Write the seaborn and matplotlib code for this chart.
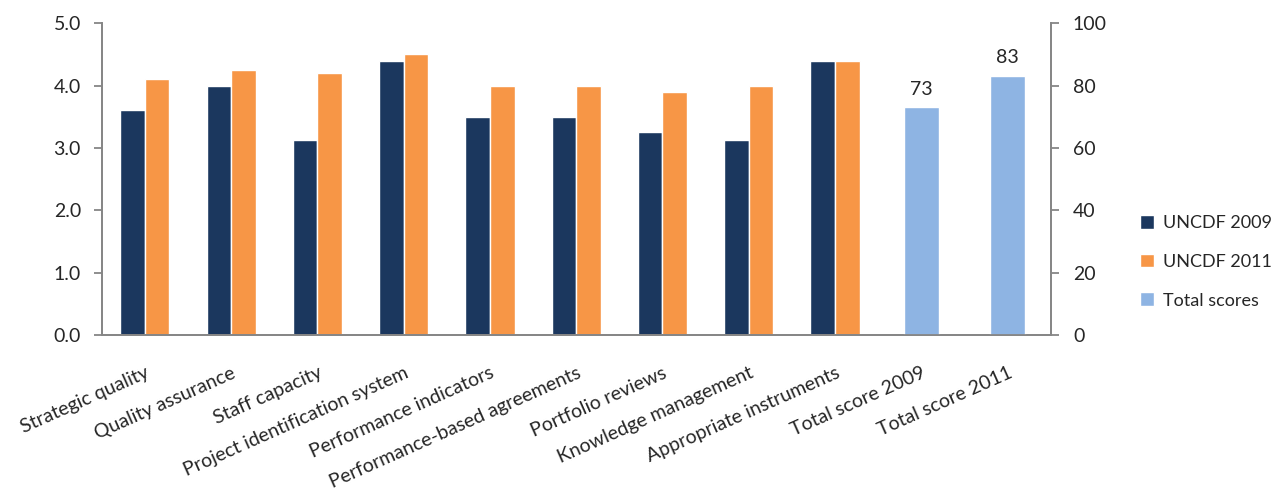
import pandas as pd
import numpy as np
import matplotlib
matplotlib.use("Agg")
import matplotlib.pyplot as plt
from matplotlib.patches import Patch
import seaborn as sns

categories = ["Strategic quality", "Quality assurance", "Staff capacity",
              "Project identification system", "Performance indicators",
              "Performance-based agreements", "Portfolio reviews",
              "Knowledge management", "Appropriate instruments",
              "Total score 2009", "Total score 2011"]
score_2009 = [3.6, 4.0, 3.125, 4.4, 3.5, 3.5, 3.25, 3.125, 4.4]
score_2011 = [4.1, 4.25, 4.2, 4.5, 4.0, 4.0, 3.9, 4.0, 4.4]
total_cats = ["Total score 2009", "Total score 2011"]
total_scores = [73, 83]
series = ["UNCDF 2009", "UNCDF 2011", "Total scores"]
colors = ["#1B375E", "#F79646", "#8EB4E3"]

df = pd.DataFrame({
    "category": categories[:9] * 2,
    "score": score_2009 + score_2011,
    "series": [series[0]] * 9 + [series[1]] * 9,
})
tot = pd.DataFrame({"category": total_cats, "score": total_scores})

sns.set_style("white")
plt.rcParams["font.family"] = ["Lato", "DejaVu Sans"]
grey = "#868686"

fig, ax = plt.subplots(figsize=(12.72, 4.92), dpi=100)
fig.subplots_adjust(left=0.080, right=0.826, top=0.953, bottom=0.319)

sns.barplot(data=df, x="category", y="score", hue="series", order=categories,
            hue_order=series[:2], palette=colors[:2], saturation=1, width=0.57,
            legend=False, ax=ax)
ax2 = ax.twinx()
sns.barplot(data=tot, x="category", y="score", order=categories, color=colors[2],
            saturation=1, width=0.4, ax=ax2)
for c in ax2.containers:
    ax2.bar_label(c, labels=[str(v) for v in total_scores], padding=7, fontsize=14)

ax.set_xlim(-0.5, len(categories) - 0.5)
ax.set_ylim(0, 5)
ax2.set_ylim(0, 100)
ax.set_yticks(np.arange(0, 5.01, 1.0))
ax.set_yticklabels([f"{v:.1f}" for v in np.arange(0, 5.01, 1.0)])
ax2.set_yticks(range(0, 101, 20))
ax.set_xticks(range(len(categories)))
ax.set_xticks(np.arange(-0.5, len(categories), 1.0), minor=True)
ax.set_xticklabels(categories, rotation=24, ha="right", va="top", rotation_mode="anchor")
ax.set_xlabel("")
ax.set_ylabel("")
ax2.set_ylabel("")

for a in (ax, ax2):
    for s in a.spines.values():
        s.set_color(grey)
        s.set_linewidth(1.3)
    a.spines["top"].set_visible(False)
ax.tick_params(axis="x", which="major", length=0, pad=21, labelsize=14)
ax.tick_params(axis="x", which="minor", length=6, color=grey, width=1.3, direction="out")
ax.tick_params(axis="y", length=6, color=grey, width=1.3, pad=9, labelsize=14, left=True)
ax2.tick_params(axis="y", length=6, color=grey, width=1.3, pad=10, labelsize=14, right=True)

handles = [Patch(facecolor=c, label=s) for c, s in zip(colors, series)]
fig.legend(handles=handles, loc="center left", bbox_to_anchor=(0.886, 0.468),
           frameon=False, fontsize=13, handlelength=0.8, handleheight=0.8,
           handletextpad=0.5, labelspacing=1.25, borderpad=0.2)

fig.savefig("out.png", dpi=100)
